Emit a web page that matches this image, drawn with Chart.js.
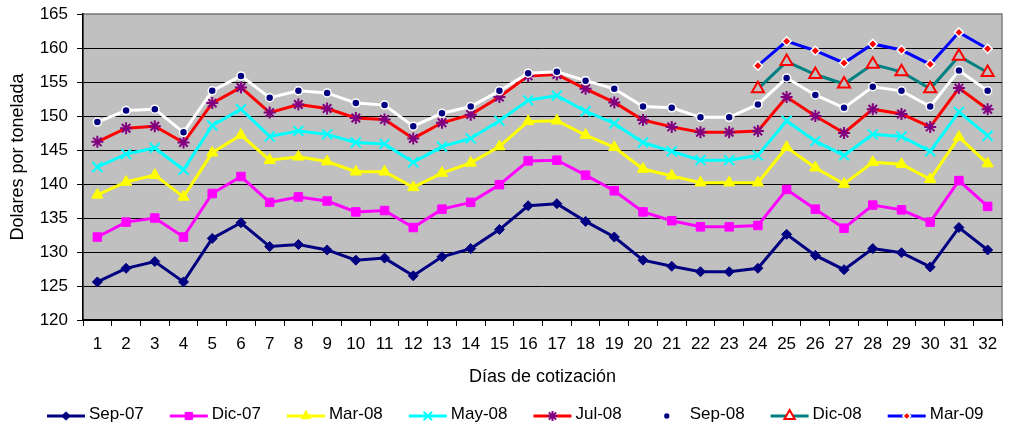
<!DOCTYPE html>
<html>
<head>
<meta charset="utf-8">
<script src="https://cdn.jsdelivr.net/npm/chart.js@4"></script>
<style>
  body { margin: 0; background: #fff; }
</style>
</head>
<body>
<canvas id="grafico" width="1011" height="428"></canvas>
<script>
// Datos
const dias = ["1","2","3","4","5","6","7","8","9","10","11","12","13","14","15","16",
  "17","18","19","20","21","22","23","24","25","26","27","28","29","30","31","32"];

const sep07 = [125.6,127.6,128.6,125.6,132.0,134.3,130.8,131.1,130.3,128.8,129.1,126.5,129.3,130.5,133.3,136.8,
  137.1,134.5,132.2,128.8,127.9,127.1,127.1,127.6,132.6,129.5,127.4,130.5,129.9,127.8,133.6,130.3];
const dic07 = [132.2,134.4,135.0,132.2,138.6,141.1,137.3,138.1,137.5,135.9,136.1,133.6,136.3,137.3,139.9,143.4,
  143.5,141.3,139.0,135.9,134.6,133.7,133.7,133.9,139.2,136.3,133.5,136.9,136.2,134.4,140.5,136.7];
const mar08 = [138.4,140.3,141.3,138.1,144.6,147.2,143.5,144.0,143.3,141.8,141.8,139.5,141.6,143.1,145.5,149.2,
  149.3,147.2,145.4,142.2,141.2,140.2,140.2,140.2,145.4,142.4,140.0,143.2,142.9,140.7,146.9,143.0];
const may08 = [142.5,144.4,145.3,142.1,148.6,151.0,147.0,147.8,147.3,146.1,145.9,143.2,145.5,146.7,149.3,152.3,
  153.0,150.7,148.9,146.1,144.8,143.5,143.5,144.2,149.3,146.3,144.2,147.3,147.0,144.8,150.6,147.1];
const jul08 = [146.2,148.2,148.5,146.1,151.9,154.2,150.5,151.7,151.1,149.7,149.5,146.7,149.0,150.2,152.8,155.9,
  156.1,154.0,152.0,149.4,148.4,147.6,147.6,147.8,152.8,150.0,147.5,151.0,150.3,148.4,154.1,151.0];
const sep08 = [149.1,150.8,151.0,147.6,153.7,155.9,152.7,153.7,153.4,151.9,151.6,148.5,150.4,151.4,153.7,156.3,
  156.5,155.2,154.0,151.4,151.2,149.8,149.8,151.7,155.6,153.1,151.2,154.3,153.7,151.4,156.7,153.7];
const dic08 = [null,null,null,null,null,null,null,null,null,null,null,null,null,null,null,null,
  null,null,null,null,null,null,null,154.0,158.0,156.1,154.7,157.6,156.5,154.0,158.8,156.4];
const mar09 = [null,null,null,null,null,null,null,null,null,null,null,null,null,null,null,null,
  null,null,null,null,null,null,null,157.4,161.0,159.6,157.8,160.6,159.7,157.6,162.3,159.9];

const ticksY = [120,125,130,135,140,145,150,155,160,165];

const fuente = "'Liberation Sans', Arial, sans-serif";

function serie(label, data, color, estilo, radio, relleno, borde, grosorBorde, orden) {
  return {
    label: label,
    data: data,
    borderColor: color,
    backgroundColor: color,
    borderWidth: 3,
    tension: 0,
    pointStyle: estilo,
    pointRadius: radio,
    pointHoverRadius: radio,
    pointBackgroundColor: relleno,
    pointBorderColor: borde,
    pointBorderWidth: grosorBorde,
    order: orden,
  };
}

const datasets = [
  serie("Sep-07", sep07, "#000080", "rectRot", 5, "#000080", "#000080", 1, 8),
  serie("Dic-07", dic07, "#FF00FF", "rect", 6, "#FF00FF", "#FF00FF", 1, 7),
  serie("Mar-08", mar08, "#FFFF00", "triangle", 6.5, "#FFFF00", "#FFFF00", 1, 6),
  serie("May-08", may08, "#00FFFF", "crossRot", 7, "#00FFFF", "#00FFFF", 2, 5),
  serie("Jul-08", jul08, "#FF0000", "star", 6, "#800080", "#800080", 2, 4),
  serie("Sep-08", sep08, "#FFFFFF", "circle", 4, "#000080", "#FFFFFF", 1.5, 3),
  serie("Dic-08", dic08, "#008080", "triangle", 7, "#C0C0C0", "#FF0000", 2, 2),
  serie("Mar-09", mar09, "#0000FF", "rectRot", 4.5, "#FF0000", "#FFFFFF", 1.5, 1),
];

// Fondo gris del área de trazado
const fondo = {
  id: "fondo",
  beforeDraw(chart) {
    const { ctx, chartArea: a } = chart;
    ctx.save();
    ctx.fillStyle = "#C0C0C0";
    ctx.fillRect(a.left, a.top, a.right - a.left, a.bottom - a.top);
    ctx.strokeStyle = "#808080";
    ctx.lineWidth = 1.5;
    ctx.strokeRect(a.left, a.top, a.right - a.left, a.bottom - a.top);
    ctx.restore();
  },
};

// Leyenda estilo Excel: línea + marcador + texto
const leyenda = {
  id: "leyenda",
  afterDraw(chart) {
    const ctx = chart.ctx;
    const linea = 38, sep = 4, hueco = 26;
    const yLinea = 416, yTexto = 414;
    ctx.save();
    ctx.font = "17px " + fuente;
    let x = 47;
    chart.data.datasets.forEach((ds) => {
      ctx.strokeStyle = ds.borderColor;
      ctx.lineWidth = 3;
      ctx.beginPath();
      ctx.moveTo(x, yLinea);
      ctx.lineTo(x + linea, yLinea);
      ctx.stroke();
      ctx.fillStyle = ds.label === "Dic-08" ? "#FFFFFF" : ds.pointBackgroundColor;
      ctx.strokeStyle = ds.pointBorderColor;
      ctx.lineWidth = ds.pointBorderWidth;
      Chart.helpers.drawPoint(ctx, { pointStyle: ds.pointStyle, radius: ds.pointRadius * 0.85, rotation: 0, borderWidth: ds.pointBorderWidth }, x + linea / 2, yLinea);
      ctx.fillStyle = "#000";
      ctx.textBaseline = "middle";
      ctx.textAlign = "left";
      ctx.fillText(ds.label, x + linea + sep, yTexto);
      x += linea + sep + ctx.measureText(ds.label).width + hueco;
    });
    ctx.restore();
  },
};

new Chart(document.getElementById("grafico").getContext("2d"), {
  type: "line",
  data: { labels: dias, datasets: datasets },
  plugins: [fondo, leyenda],
  options: {
    responsive: false,
    animation: false,
    layout: { padding: { left: 0, right: 2, top: 14, bottom: 0 } },
    plugins: {
      legend: { display: false },
      tooltip: { enabled: false },
    },
    scales: {
      x: {
        offset: true,
        grid: {
          offset: true,
          drawOnChartArea: false,
          drawTicks: true,
          tickLength: 6,
          tickColor: "#000",
        },
        border: { color: "#000", width: 1.5 },
        ticks: {
          color: "#000",
          font: { family: fuente, size: 17 },
          padding: 8,
          maxRotation: 0,
          autoSkip: false,
        },
        title: {
          display: true,
          text: "Días de cotización",
          color: "#000",
          font: { family: fuente, size: 18 },
          padding: { top: 0, bottom: 40 },
        },
        afterFit(scale) { scale.height = 108; },
      },
      y: {
        min: 120,
        max: 165,
        afterBuildTicks(scale) { scale.ticks = ticksY.map((v) => ({ value: v })); },
        grid: {
          color: (c) => (c.tick && c.tick.value === 165 ? "#808080" : "#000"),
          lineWidth: 1,
          tickLength: 6,
          tickColor: "#000",
        },
        border: { color: "#000", width: 1.5 },
        ticks: {
          color: "#000",
          font: { family: fuente, size: 17 },
          padding: 9,
        },
        title: {
          display: true,
          text: "    Dolares por tonelada",
          color: "#000",
          font: { family: fuente, size: 18 },
          padding: { top: 7, bottom: 0 },
        },
        afterFit(scale) {
          scale.width = 83;
          scale.paddingTop = 0;
          scale.paddingBottom = 0;
        },
      },
    },
  },
});
</script>
</body>
</html>
